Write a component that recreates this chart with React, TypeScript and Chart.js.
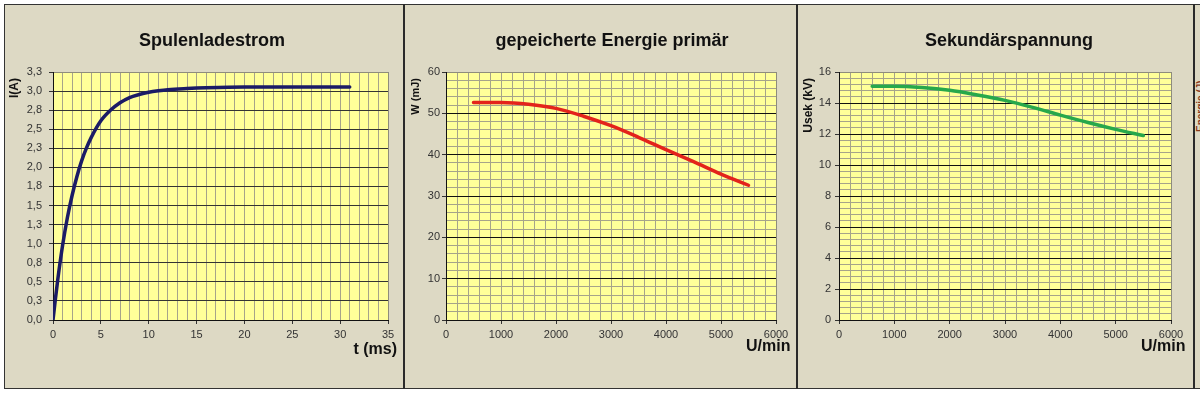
import React, { useEffect, useRef } from 'react';
import { Chart, registerables } from 'chart.js';

Chart.register(...registerables);

const FONT = "'Liberation Sans', Arial, Helvetica, sans-serif";

// ---- Chart 1: Spulenladestrom ----
const chargeTimeMs = [0, 0.25, 0.5, 1, 1.5, 2, 2.5, 3, 3.5, 4, 5, 6, 7, 8, 9, 10, 11, 12, 14, 16, 20, 25, 31];
const chargeCurrentA = [0, 0.28, 0.54, 0.99, 1.36, 1.66, 1.91, 2.12, 2.29, 2.43, 2.65, 2.79, 2.89, 2.96, 3.0, 3.03, 3.05, 3.065, 3.08, 3.09, 3.1, 3.1, 3.1];
const currentTickLabels = ['0,0', '0,3', '0,5', '0,8', '1,0', '1,3', '1,5', '1,8', '2,0', '2,3', '2,5', '2,8', '3,0', '3,3'];
const timeTickLabels = ['0', '5', '10', '15', '20', '25', '30', '35'];

// ---- Chart 2: gepeicherte Energie primär ----
const rpmEnergy = [500, 1000, 1500, 2000, 2500, 3000, 3500, 4000, 4500, 5000, 5500];
const energyMJ = [52.6, 52.6, 52.2, 51.2, 49.3, 47.0, 44.2, 41.2, 38.3, 35.3, 32.6];
const energyTickLabels = ['0', '10', '20', '30', '40', '50', '60'];

// ---- Chart 3: Sekundärspannung ----
const rpmVoltage = [600, 1000, 1500, 2000, 2500, 3000, 3500, 4000, 4500, 5000, 5500];
const voltageKV = [15.08, 15.08, 15.0, 14.82, 14.52, 14.17, 13.72, 13.22, 12.74, 12.3, 11.9];
const voltageTickLabels = ['0', '2', '4', '6', '8', '10', '12', '14', '16'];

const rpmTickLabels = ['0', '1000', '2000', '3000', '4000', '5000', '6000'];

const PANEL_BG = '#ddd9c4';
const PLOT_BG = '#ffff99';
const MINOR_GRID = '#a6a38a';
const EDGE_GRID = '#8e8c7c';

type Spec = {
  canvas: { left: number; top: number; width: number; height: number };
  plot: { left: number; top: number; right: number; bottom: number };
  title: string;
  titleX: number;
  yTitle: string;
  yTitleX: number;
  yTitleSize: number;
  xTitle: string;
  xTitleRight: number;
  xTitleY: number;
  xs: number[];
  ys: number[];
  color: string;
  xMax: number;
  xMinorCount: number;
  xMajorEvery: number;
  xLabels: string[];
  yMax: number;
  yMinorCount: number;
  yMajorEvery: number;
  yLabels: string[];
  yPad: number;
  yMajorColor: string;
};

const specs: Spec[] = [
  {
    canvas: { left: 5, top: 5, width: 398, height: 382 },
    plot: { left: 53, top: 72, right: 388, bottom: 320 },
    title: 'Spulenladestrom',
    titleX: 212,
    yTitle: 'I(A)',
    yTitleX: 18,
    yTitleSize: 12,
    xTitle: 't (ms)',
    xTitleRight: 397,
    xTitleY: 354,
    xs: chargeTimeMs,
    ys: chargeCurrentA,
    color: '#1b1b66',
    xMax: 35,
    xMinorCount: 35,
    xMajorEvery: 5,
    xLabels: timeTickLabels,
    yMax: 3.3,
    yMinorCount: 13,
    yMajorEvery: 1,
    yLabels: currentTickLabels,
    yPad: 7,
    yMajorColor: '#333333',
  },
  {
    canvas: { left: 406, top: 5, width: 390, height: 382 },
    plot: { left: 446, top: 72, right: 776, bottom: 320 },
    title: 'gepeicherte Energie primär',
    titleX: 612,
    yTitle: 'W (mJ)',
    yTitleX: 419,
    yTitleSize: 11,
    xTitle: 'U/min',
    xTitleRight: 790.5,
    xTitleY: 351,
    xs: rpmEnergy,
    ys: energyMJ,
    color: '#e3231b',
    xMax: 6000,
    xMinorCount: 30,
    xMajorEvery: 5,
    xLabels: rpmTickLabels,
    yMax: 60,
    yMinorCount: 30,
    yMajorEvery: 5,
    yLabels: energyTickLabels,
    yPad: 2,
    yMajorColor: '#111111',
  },
  {
    canvas: { left: 799, top: 5, width: 394, height: 382 },
    plot: { left: 839, top: 72, right: 1171, bottom: 320 },
    title: 'Sekundärspannung',
    titleX: 1009,
    yTitle: 'Usek (kV)',
    yTitleX: 812,
    yTitleSize: 12,
    xTitle: 'U/min',
    xTitleRight: 1185.5,
    xTitleY: 351,
    xs: rpmVoltage,
    ys: voltageKV,
    color: '#27a84b',
    xMax: 6000,
    xMinorCount: 30,
    xMajorEvery: 5,
    xLabels: rpmTickLabels,
    yMax: 16,
    yMinorCount: 40,
    yMajorEvery: 5,
    yLabels: voltageTickLabels,
    yPad: 4,
    yMajorColor: '#111111',
  },
];

function buildChart(canvas: HTMLCanvasElement, s: Spec) {
  const ox = s.canvas.left;
  const oy = s.canvas.top;
  const xVals: number[] = [];
  for (let i = 0; i <= s.xMinorCount; i++) xVals.push((i * s.xMax) / s.xMinorCount);
  const yVals: number[] = [];
  for (let i = 0; i <= s.yMinorCount; i++) yVals.push((i * s.yMax) / s.yMinorCount);

  const points = s.xs.map((x, i) => ({ x, y: s.ys[i] }));

  const plugin = {
    id: 'panelDecor',
    beforeDraw(chart: any) {
      const { ctx, chartArea: a } = chart;
      ctx.save();
      ctx.fillStyle = PLOT_BG;
      ctx.fillRect(a.left, a.top, a.right - a.left, a.bottom - a.top);
      ctx.restore();
    },
    afterDraw(chart: any) {
      const { ctx } = chart;
      ctx.save();
      ctx.fillStyle = '#111';
      ctx.textBaseline = 'alphabetic';
      ctx.font = `bold 18px ${FONT}`;
      ctx.textAlign = 'center';
      ctx.fillText(s.title, s.titleX - ox, 46 - oy);
      ctx.font = `bold 16px ${FONT}`;
      ctx.textAlign = 'right';
      ctx.fillText(s.xTitle, s.xTitleRight - ox, s.xTitleY - oy);
      ctx.translate(s.yTitleX - ox, 78 - oy);
      ctx.rotate(-Math.PI / 2);
      ctx.font = `bold ${s.yTitleSize}px ${FONT}`;
      ctx.textAlign = 'right';
      ctx.fillText(s.yTitle, 0, 0);
      ctx.restore();
    },
  };

  return new Chart(canvas, {
    type: 'line',
    data: {
      datasets: [
        {
          data: points,
          borderColor: s.color,
          borderWidth: 3.5,
          pointRadius: 0,
          fill: false,
          cubicInterpolationMode: 'monotone',
          borderCapStyle: 'round',
        } as any,
      ],
    },
    options: {
      responsive: false,
      animation: false,
      events: [],
      layout: {
        padding: {
          top: s.plot.top - oy,
          left: 0,
          right: ox + s.canvas.width - s.plot.right,
          bottom: 0,
        },
      },
      plugins: {
        legend: { display: false },
        title: { display: false },
        tooltip: { enabled: false },
      },
      scales: {
        x: {
          type: 'linear',
          min: 0,
          max: s.xMax,
          afterBuildTicks: (scale: any) => {
            scale.ticks = xVals.map((v) => ({ value: v }));
          },
          afterFit: (scale: any) => {
            scale.height = oy + s.canvas.height - s.plot.bottom;
          },
          ticks: {
            autoSkip: false,
            maxRotation: 0,
            padding: 4,
            color: '#333',
            font: { family: FONT, size: 11 },
            callback: (_v: any, i: number) => (i % s.xMajorEvery === 0 ? s.xLabels[i / s.xMajorEvery] : ''),
          },
          grid: {
            color: (c: any) => (c.index === s.xMinorCount ? EDGE_GRID : MINOR_GRID),
            lineWidth: 1,
            tickLength: 4,
            tickColor: (c: any) => (c.index % s.xMajorEvery === 0 ? '#333' : 'rgba(0,0,0,0)'),
          },
          border: { display: true, color: '#111', width: 1 },
        },
        y: {
          type: 'linear',
          min: 0,
          max: s.yMax,
          afterBuildTicks: (scale: any) => {
            scale.ticks = yVals.map((v) => ({ value: v }));
          },
          afterFit: (scale: any) => {
            scale.width = s.plot.left - ox;
          },
          ticks: {
            autoSkip: false,
            padding: s.yPad,
            color: '#333',
            font: { family: FONT, size: 11 },
            callback: (_v: any, i: number) => (i % s.yMajorEvery === 0 ? s.yLabels[i / s.yMajorEvery] : ''),
          },
          grid: {
            color: (c: any) =>
              c.index === s.yMinorCount ? EDGE_GRID : c.index % s.yMajorEvery === 0 ? s.yMajorColor : MINOR_GRID,
            lineWidth: 1,
            tickLength: 4,
            tickColor: (c: any) => (c.index % s.yMajorEvery === 0 ? '#333' : 'rgba(0,0,0,0)'),
          },
          border: { display: true, color: '#111', width: 1 },
        },
      },
    } as any,
    plugins: [plugin as any],
  });
}

function ChartCanvas({ spec }: { spec: Spec }) {
  const ref = useRef<HTMLCanvasElement | null>(null);
  useEffect(() => {
    if (!ref.current) return;
    const chart = buildChart(ref.current, spec);
    return () => chart.destroy();
  }, [spec]);
  const c = spec.canvas;
  return (
    <canvas
      ref={ref}
      width={c.width}
      height={c.height}
      style={{ position: 'absolute', left: c.left, top: c.top, width: c.width, height: c.height }}
    />
  );
}

export default function App() {
  return (
    <div
      style={{
        position: 'absolute',
        left: 0,
        top: 0,
        width: 1200,
        height: 393,
        overflow: 'hidden',
        background: '#ffffff',
        fontFamily: FONT,
      }}
    >
      <div
        style={{
          position: 'absolute',
          left: 4,
          top: 4,
          width: 1210,
          height: 383,
          background: PANEL_BG,
          borderTop: '1px solid #333',
          borderBottom: '1px solid #333',
          borderLeft: '1px solid #333',
        }}
      />
      {[403, 796, 1193].map((x) => (
        <div key={x} style={{ position: 'absolute', left: x, top: 4, width: 2, height: 385, background: '#2a2a2a' }} />
      ))}
      {specs.map((s, i) => (
        <ChartCanvas key={i} spec={s} />
      ))}
      <span
        style={{
          position: 'absolute',
          left: 1196,
          top: 132,
          transformOrigin: '0 0',
          transform: 'rotate(-90deg)',
          font: `bold 10px ${FONT}`,
          lineHeight: '10px',
          whiteSpace: 'nowrap',
          color: '#8a3a1a',
        }}
      >
        Energie (J)
      </span>
    </div>
  );
}
